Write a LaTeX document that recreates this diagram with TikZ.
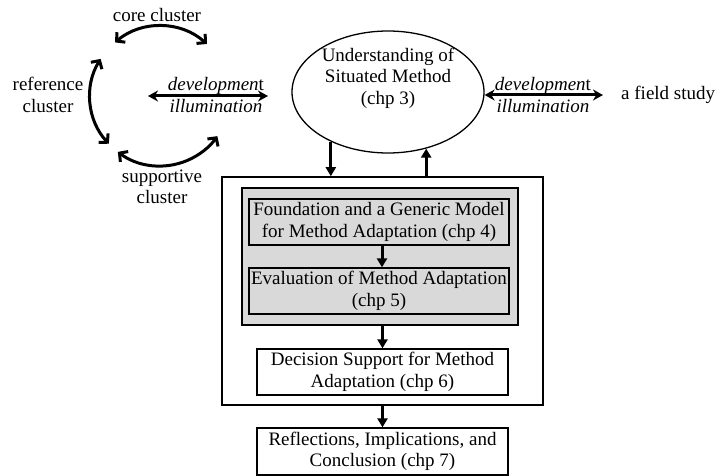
\documentclass[tikz,border=0pt]{standalone}
\usepackage{fontspec}
\setmainfont{Liberation Serif}
\usetikzlibrary{arrows.meta,shapes.geometric}
\definecolor{boxgray}{RGB}{217,217,217}
\begin{document}
\begin{tikzpicture}[x=1pt,y=-1pt,
  every node/.style={font=\fontsize{19}{21.5}\selectfont, align=center, inner sep=0pt},
  plainbox/.style={draw, line width=1.3pt, rectangle},
  graybox/.style={plainbox, fill=boxgray},
  downarr/.style={line width=3pt, -{Triangle[length=9pt,width=10pt]}},
  twoway/.style={line width=3pt, {Stealth[length=10pt,width=11pt]}-{Stealth[length=10pt,width=11pt]}},
  cyclearr/.style={line width=3pt, {Straight Barb[length=6pt,width=13pt]}-{Straight Barb[length=6pt,width=13pt]}}
]
\useasboundingbox (0,0) rectangle (723,476);

% cluster cycle on the left
\node (core) at (157,15) {core cluster};
\node (ref) at (48,95) {reference\\cluster};
\node (supp) at (162,187) {supportive\\cluster};
\draw[cyclearr] (160,96) ++(-130:70) arc[start angle=-130, end angle=-48, radius=70];
\draw[cyclearr] (160,96) ++(-148:70) arc[start angle=-148, end angle=-223, radius=70];
\draw[cyclearr] (160,96) ++(-233:70) arc[start angle=-233, end angle=-325, radius=70];

% situated method ellipse
\node[draw, ellipse, line width=1.3pt, minimum width=192pt, minimum height=122pt] (um) at (388,92) {};
\node (umtext) at (388,78) {Understanding of\\Situated Method\\(chp 3)};

% development / illumination links
\coordinate (cl) at (148,96);
\coordinate (cr) at (268,96);
\draw[twoway] (cl) -- (cr);
\node (devl) at (216,95) {\textit{developmen}t\\\textit{illumination}};
\node[anchor=west] (field) at (621,95) {a field study};
\coordinate (fr) at ([xshift=-18pt]field.west);
\draw[twoway] (um.east |- fr) -- (fr);
\node (devr) at (543,95) {\textit{developmen}t\\\textit{illumination}};

% method adaptation frame
\node[plainbox, line width=1.6pt, minimum width=321pt, minimum height=228pt] (outer) at (382.5,291) {};
\node[graybox, line width=1.6pt, minimum width=276pt, minimum height=137pt] (gray) at (380,256.5) {};
\node[graybox, minimum width=260pt, minimum height=46pt] (found) at (379,222)
  {Foundation and a Generic Model\\for Method Adaptation (chp 4)};
\node[graybox, minimum width=260pt, minimum height=46pt] (eval) at (379,291)
  {Evaluation of Method Adaptation\\(chp 5)};
\node[plainbox, fill=white, minimum width=251pt, minimum height=46pt] (dec) at (382.5,372)
  {Decision Support for Method\\Adaptation (chp 6)};
\node[plainbox, fill=white, minimum width=251pt, minimum height=47pt] (refl) at (382.5,451.5)
  {Reflections, Implications, and\\Conclusion (chp 7)};

% flow arrows
\draw[downarr] (um.221.5) -- (um.221.5 |- outer.north);
\draw[downarr] (um.304 |- outer.north) -- (um.304);
\draw[downarr] ([xshift=3pt]found.south) -- ([xshift=3pt]eval.north);
\draw[downarr] (gray.south -| dec.north) -- (dec.north);
\draw[downarr] (outer.south -| refl.north) -- (refl.north);
\end{tikzpicture}
\end{document}
